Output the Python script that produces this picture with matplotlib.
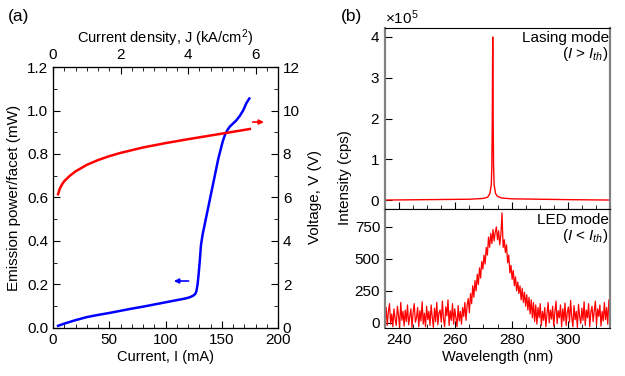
import numpy as np
import matplotlib
matplotlib.use('Agg')
from matplotlib import pyplot as plt
from matplotlib.ticker import MultipleLocator, ScalarFormatter

plt.rcParams['font.family'] = ['Liberation Sans', 'DejaVu Sans']
plt.rcParams['font.size'] = 10.5
plt.rcParams['mathtext.fontset'] = 'custom'
plt.rcParams['mathtext.rm'] = 'Liberation Sans'
plt.rcParams['mathtext.it'] = 'Liberation Sans:italic'

# (a) L-I-V data
cur_p = [4.5, 10, 20, 30, 40, 50, 60, 70, 80, 90, 100, 110, 118, 122, 125, 126.5,
         127.5, 128.5, 129.5, 130.5, 131.5, 133, 135, 137, 139, 141, 143, 145, 147,
         149, 151, 153, 155, 157, 160, 163, 166, 169, 172, 174.5]
power = [0.01, 0.02, 0.036, 0.05, 0.06, 0.069, 0.079, 0.089, 0.098, 0.108, 0.118,
         0.128, 0.136, 0.142, 0.150, 0.157, 0.17, 0.2, 0.25, 0.31, 0.38, 0.43, 0.48,
         0.53, 0.58, 0.63, 0.68, 0.73, 0.78, 0.82, 0.86, 0.89, 0.91, 0.925, 0.94,
         0.955, 0.975, 1.0, 1.035, 1.055]
cur_v = [4.5, 6, 8, 10, 15, 20, 30, 40, 50, 60, 80, 100, 120, 140, 160, 175]
volt = [6.15, 6.4, 6.6, 6.75, 7.0, 7.2, 7.5, 7.72, 7.9, 8.05, 8.3, 8.5, 8.68, 8.85,
        9.02, 9.15]

# (b) lasing spectrum (x1e5 counts)
las_wl = [235, 250, 265, 270, 271.5, 272.3, 272.8, 273.0, 273.15, 273.3, 273.45,
          273.6, 273.8, 274.3, 275, 276.5, 280, 290, 300, 315]
las_int = [0.0, 0.01, 0.02, 0.04, 0.07, 0.16, 0.38, 0.85, 2.0, 4.0, 2.0, 0.85, 0.38,
           0.16, 0.09, 0.05, 0.03, 0.02, 0.01, 0.0]

# (b) LED spectrum, 0.4 nm steps from 235 nm
led_int = [
    10, 120, -20, 90, 150, -10, 70, -30, 110, 30,
    -20, 130, 60, -35, 160, 20, 90, -25, 100, 10,
    140, -15, 50, 110, -35, 85, 150, 5, 40, 120,
    -30, 95, 15, 165, -10, 75, -30, 130, 25, 90,
    -20, 140, 45, -35, 115, 10, 160, -15, 80, 100,
    5, 170, 30, -30, 125, 55, 180, -20, 95, 20,
    150, -10, 110, 40, -30, 135, 15, 90,
    -10, 120, 50, 160, 20, 140, 190, 80, 230, 150,
    290, 200, 330, 250, 380, 300, 430, 350, 480, 420,
    530, 460, 590, 530, 670, 590, 700, 620, 730, 640,
    710, 750, 650, 720, 610, 690, 860, 590, 650, 550,
    610, 470, 530, 390, 450, 340, 410, 290, 360, 250,
    320, 230, 290, 180, 270, 160, 240, 130, 220, 100,
    200, 70, 180, 40, 160, 10, 140, -10, 120, 40,
    150, -20, 90, 20, 120, -30, 70, 160, 0, 100,
    30, 130, -25, 85, 170, -5, 95, 40, 140, -30,
    110, 15, 155, -20, 80, 125, 5, 175, 45, -30,
    135, 25, 90, -35, 145, 50, -5, 115, 20, 165,
    -20, 100, 40, 150, -30, 85, 130, 10, 95, 170,
    -15, 110, 50, 140, -25, 90, 15, 160, 25, 120,
    -10, 180, 60]
led_wl = 235 + 0.4 * np.arange(len(led_int))

fig = plt.figure(figsize=(6.25, 3.76), dpi=100)

# ---------------- panel (a) ----------------
ax = fig.add_axes([0.0848, 0.1277, 0.36, 0.6941])
ax.plot(cur_p, power, color='blue', lw=1.8)
ax.set_xlim(0, 200)
ax.set_ylim(0, 1.2)
ax.xaxis.set_major_locator(MultipleLocator(50))
ax.xaxis.set_minor_locator(MultipleLocator(10))
ax.yaxis.set_major_locator(MultipleLocator(0.2))
ax.yaxis.set_minor_locator(MultipleLocator(0.1))
ax.yaxis.set_major_formatter(plt.FormatStrFormatter('%.1f'))
ax.tick_params(which='both', direction='in', labelsize=11)
ax.tick_params(which='major', length=5)
ax.tick_params(which='minor', length=3)
ax.set_xlabel('Current, I (mA)', labelpad=2)
ax.set_ylabel('Emission power/facet (mW)', labelpad=4, fontsize=11)
ax.annotate('', xy=(105, 0.216), xytext=(123, 0.216),
            arrowprops=dict(arrowstyle='-|>', color='blue', lw=1.2, mutation_scale=7))

axv = ax.twinx()
axv.plot(cur_v, volt, color='red', lw=1.8)
axv.set_ylim(0, 12)
axv.yaxis.set_major_locator(MultipleLocator(2))
axv.yaxis.set_minor_locator(MultipleLocator(1))
axv.tick_params(which='both', direction='in', labelsize=11)
axv.tick_params(which='major', length=5)
axv.tick_params(which='minor', length=3)
axv.set_ylabel('Voltage, V (V)', labelpad=6, fontsize=11)
axv.annotate('', xy=(190, 9.47), xytext=(175, 9.47),
             arrowprops=dict(arrowstyle='-|>', color='red', lw=1.2, mutation_scale=7))

axj = ax.twiny()
axj.set_xlim(0, 200 / 30)
axj.xaxis.set_major_locator(MultipleLocator(2))
axj.xaxis.set_minor_locator(MultipleLocator(1 / 3))
axj.tick_params(which='both', direction='in', labelsize=11)
axj.tick_params(which='major', length=5)
axj.tick_params(which='minor', length=3)
axj.set_xlabel('Current density, J (kA/cm$^2$)', labelpad=4)

fig.text(0.012, 0.955, '(a)', fontsize=12.5, va='center')

# ---------------- panel (b) ----------------
gray = '#808080'
axt = fig.add_axes([0.616, 0.4441, 0.36, 0.4814])
axb = fig.add_axes([0.616, 0.1277, 0.36, 0.3164], sharex=axt)

axt.plot(las_wl, np.array(las_int) * 1e5, color='red', lw=1)
axt.set_ylim(-0.22e5, 4.22e5)
axt.yaxis.set_major_locator(MultipleLocator(1e5))
fmt = ScalarFormatter(useMathText=True)
fmt.set_powerlimits((0, 0))
axt.yaxis.set_major_formatter(fmt)
axt.yaxis.get_offset_text().set_fontsize(11)
axt.tick_params(labelbottom=False)
axt.text(0.995, 0.985, 'Lasing mode\n($I$ > $I_{th}$)', transform=axt.transAxes,
         ha='right', va='top', multialignment='right', linespacing=1.0, fontsize=11)

axb.plot(led_wl, led_int, color='red', lw=0.9)
axb.set_ylim(-40, 890)
axb.yaxis.set_major_locator(MultipleLocator(250))
axb.set_xlim(235, 315)
axb.xaxis.set_major_locator(MultipleLocator(20))
axb.xaxis.set_minor_locator(MultipleLocator(5))
axb.set_xlabel('Wavelength (nm)', labelpad=2)
axb.text(0.995, 0.97, 'LED mode\n($I$ < $I_{th}$)', transform=axb.transAxes,
         ha='right', va='top', multialignment='right', linespacing=1.0, fontsize=11)

for a in (axt, axb):
    a.tick_params(which='both', direction='in', right=False, labelsize=11)
    a.tick_params(which='major', length=5)
    a.tick_params(which='minor', length=3)
    a.spines['left'].set_color(gray)
    a.spines['right'].set_color(gray)
    a.spines['left'].set_linewidth(1.6)
    a.spines['right'].set_linewidth(1.6)

fig.text(0.552, 0.527, 'Intensity (cps)', rotation=90, ha='center', va='center', fontsize=11)
fig.text(0.545, 0.955, '(b)', fontsize=12.5, va='center')

fig.savefig('out.png', dpi=100)
